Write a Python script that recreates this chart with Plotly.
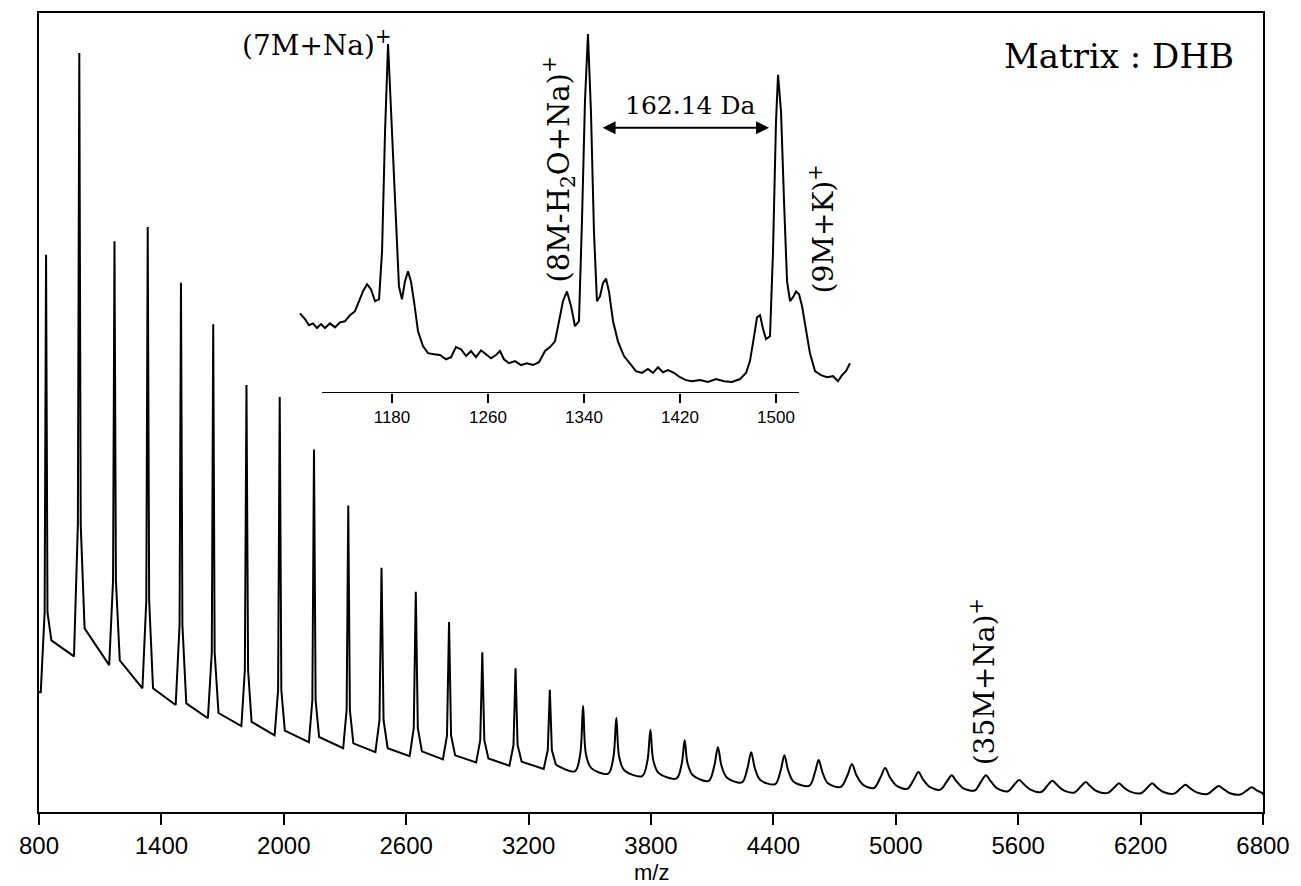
import plotly.graph_objects as go

# ---------------- main spectrum (m/z, relative intensity) ----------------
main_peak_mz = [834.6, 997.5, 1170, 1333, 1496, 1654, 1817, 1980, 2148, 2316,
                2479, 2647, 2810, 2973, 3136, 3304, 3467, 3630, 3797, 3965,
                4128, 4291, 4454, 4622, 4785, 4948, 5111, 5274, 5442, 5605,
                5768, 5931, 6094, 6257, 6420, 6583, 6745]
main_peak_top = [69.8, 95.1, 71.5, 73.3, 66.3, 61.1, 53.5, 52.0, 45.4, 38.4,
                 30.6, 27.6, 23.8, 20.0, 18.0, 15.3, 13.3, 11.8, 10.3, 9.0,
                 8.1, 7.5, 7.1, 6.5, 6.0, 5.5, 5.0, 4.6, 4.6, 4.0,
                 3.9, 3.75, 3.6, 3.6, 3.4, 3.25, 3.1]
main_peak_foot = [25, 36, 29, 26.5, 23.4, 20, 17.75, 15.25, 14, 12.75,
                  11.5, 10.5, 9.6, 9.0, 8.4, 7.75, 7.25, 6.9, 6.5, 6.1,
                  5.75, 5.5, 5.25, 5.0, 4.6, 4.4, 4.1, 3.9, 3.9, 3.5,
                  3.4, 3.25, 3.1, 3.1, 3.0, 2.9, 2.75]
# baseline just before each peak (last value = baseline at 6800)
main_valley = [15, 19.5, 18.4, 15.5, 13.4, 11.75, 10.75, 9.6, 8.75, 8.0,
               7.5, 7.0, 6.6, 6.2, 5.8, 5.4, 5.1, 4.8, 4.5, 4.2,
               3.9, 3.7, 3.5, 3.3, 3.15, 3.0, 2.9, 2.8, 2.7, 2.6,
               2.5, 2.45, 2.4, 2.35, 2.3, 2.25, 2.2, 2.1]
# baseline just after each peak (tailing side)
main_tail = [21.5, 23.0, 19.0, 15.5, 13.6, 12.4, 11.3, 10.2, 9.4, 8.6,
             8.0, 7.6, 7.1, 6.7, 6.3, 5.9, 5.5, 5.2, 4.9, 4.6,
             4.3, 4.0, 3.8, 3.6, 3.4, 3.3, 3.15, 3.0, 2.95, 2.8,
             2.7, 2.6, 2.55, 2.5, 2.45, 2.35, 2.3]
main_peak_base_hw = [26, 26, 26, 26, 26, 26, 25, 25, 25, 25,
                     30, 30, 30, 30, 30, 30, 40, 40, 40, 40,
                     45, 45, 45, 45, 55, 55, 55, 55, 55, 55,
                     55, 55, 55, 55, 55, 55, 55]
main_peak_foot_hw = [7, 7, 7, 7, 7, 7, 8, 8, 8, 8,
                     10, 10, 10, 10, 10, 10, 14, 14, 14, 14,
                     18, 18, 18, 18, 22, 22, 22, 22, 22, 22,
                     22, 22, 22, 22, 22, 22, 22]
main_tick_vals = [800, 1400, 2000, 2600, 3200, 3800, 4400, 5000, 5600, 6200, 6800]
smooth_from_peak = 16   # peaks from this index on are broad rounded humps

# ---------------- inset spectrum ----------------
inset_mz = [1103.3, 1107.5, 1110.8, 1114.2, 1117.5, 1120.8, 1124.2, 1128.3, 1132.5, 1136.7,
            1140.8, 1145.0, 1149.2, 1152.5, 1155.8, 1159.2, 1162.5, 1165.8, 1169.2, 1171.7,
            1174.2, 1176.7, 1179.2, 1182.5, 1185.8, 1188.3, 1190.8, 1193.3, 1195.8, 1198.3,
            1201.7, 1205.8, 1210.0, 1215.0, 1220.0, 1225.0, 1229.2, 1233.3, 1237.5, 1241.7,
            1245.8, 1250.0, 1254.2, 1258.3, 1262.5, 1266.7, 1270.0, 1273.3, 1277.5, 1282.5,
            1287.5, 1292.5, 1297.5, 1302.5, 1307.5, 1311.7, 1315.8, 1319.2, 1322.5, 1325.8,
            1329.2, 1332.5, 1335.8, 1338.3, 1340.8, 1343.3, 1345.8, 1348.3, 1350.8, 1353.3,
            1355.8, 1358.3, 1360.8, 1364.2, 1368.3, 1373.3, 1378.3, 1383.3, 1388.3, 1393.3,
            1397.5, 1401.7, 1405.8, 1410.0, 1415.0, 1420.0, 1425.0, 1430.0, 1436.7, 1443.3,
            1450.0, 1456.7, 1463.3, 1470.0, 1475.0, 1478.3, 1481.7, 1484.2, 1486.7, 1489.2,
            1491.7, 1495.0, 1497.5, 1500.0, 1501.7, 1504.2, 1506.7, 1509.2, 1511.7, 1514.2,
            1516.7, 1519.2, 1521.7, 1525.0, 1528.3, 1532.5, 1537.5, 1542.5, 1547.5, 1551.7,
            1555.0, 1558.3, 1561.7]
inset_int = [22.2, 20.6, 18.9, 19.4, 18.1, 19.2, 18.1, 19.4, 18.3, 19.7,
             20.0, 21.7, 22.8, 25.6, 28.3, 30.3, 28.9, 25.6, 26.1, 39.4,
             72.8, 97.2, 78.3, 50.6, 29.7, 26.1, 31.1, 33.9, 31.1, 25.6,
             17.2, 13.1, 11.1, 10.8, 10.6, 9.4, 10.0, 12.8, 12.2, 10.3,
             11.7, 10.0, 11.9, 10.8, 9.7, 10.6, 11.7, 9.4, 8.3, 8.9,
             7.8, 8.3, 7.8, 8.6, 11.7, 12.8, 14.4, 20.0, 25.6, 28.3,
             24.2, 18.6, 20.0, 47.8, 81.1, 100.0, 78.3, 45.0, 25.6, 26.9,
             30.6, 31.9, 28.3, 20.0, 14.4, 10.3, 8.3, 6.1, 5.6, 6.7,
             5.6, 7.2, 5.8, 6.4, 5.6, 4.4, 3.6, 3.3, 3.6, 3.1,
             3.9, 3.3, 3.1, 3.9, 5.6, 8.9, 15.8, 21.1, 21.7, 17.8,
             15.0, 15.8, 39.4, 75.6, 88.6, 78.3, 53.3, 31.1, 25.6, 26.7,
             28.3, 27.5, 24.2, 17.2, 11.1, 6.1, 5.0, 4.4, 4.7, 3.3,
             5.0, 6.1, 8.3]
inset_tick_vals = [1180, 1260, 1340, 1420, 1500]
inset_axis_span = [1121.7, 1519.2]
arrow_span = [1354.2, 1494.2]
arrow_level = 73.9

# ---------------- build main polyline from the read peak values ----------------
sharp_x, sharp_y = [800], [main_valley[0]]
broad_x, broad_y = [], []
for i, c in enumerate(main_peak_mz):
    hw = main_peak_base_hw[i]
    fw = main_peak_foot_hw[i]
    px_ = [c - hw, c - fw, c, c + fw, c + hw]
    py_ = [main_valley[i], main_peak_foot[i], main_peak_top[i], main_peak_foot[i], main_tail[i]]
    if i < smooth_from_peak:
        sharp_x += px_
        sharp_y += py_
    else:
        if not broad_x:
            broad_x.append(sharp_x[-1])
            broad_y.append(sharp_y[-1])
        broad_x += px_
        broad_y += py_
broad_x.append(6800)
broad_y.append(main_valley[-1])

fig = go.Figure()
fig.add_trace(go.Scatter(x=sharp_x, y=sharp_y, mode="lines", line=dict(color="black", width=2),
                         xaxis="x", yaxis="y", showlegend=False, hoverinfo="skip"))
fig.add_trace(go.Scatter(x=broad_x, y=broad_y, mode="lines",
                         line=dict(color="black", width=2, shape="spline", smoothing=0.9),
                         xaxis="x", yaxis="y", showlegend=False, hoverinfo="skip"))
fig.add_trace(go.Scatter(x=inset_mz, y=inset_int, mode="lines", line=dict(color="black", width=2),
                         xaxis="x2", yaxis="y2", showlegend=False, hoverinfo="skip"))

W, H = 1301, 886
L, R, T, B = 39, 38, 11, 74
pw = W - L - R
ph = H - T - B


def px(x):
    return (x - L) / pw


def py(y):
    return (H - B - y) / ph


fig.update_layout(
    width=W, height=H,
    margin=dict(l=L, r=R, t=T, b=B, pad=0),
    paper_bgcolor="white", plot_bgcolor="white",
    xaxis=dict(range=[800, 6800], tickvals=main_tick_vals, ticks="outside", ticklen=11,
               tickwidth=2, tickcolor="black", showline=True, linewidth=2, linecolor="black",
               mirror=True, showgrid=False, zeroline=False,
               tickfont=dict(family="Liberation Sans, Arial", size=24, color="black")),
    yaxis=dict(range=[0, 100.1], showticklabels=False, ticks="", showline=True, linewidth=2,
               linecolor="black", mirror=True, showgrid=False, zeroline=False),
    xaxis2=dict(domain=[px(298), px(852)], range=[1101.67, 1563.33], anchor="y2",
                tickvals=inset_tick_vals, ticks="outside", ticklen=9, tickwidth=2,
                tickcolor="black", showline=False, showgrid=False, zeroline=False,
                tickfont=dict(family="Liberation Sans, Arial", size=17, color="black")),
    yaxis2=dict(domain=[py(392), py(14)], range=[0, 105], anchor="x2", visible=False),
    shapes=[dict(type="line", xref="x2", yref="y2", x0=inset_axis_span[0], x1=inset_axis_span[1],
                 y0=0, y1=0, line=dict(color="black", width=2))],
)

serif = "DejaVu Serif, Century Schoolbook, serif"
ann = [
    dict(text="m/z", x=px(651), y=py(873), xanchor="center", yanchor="middle",
         font=dict(family="Liberation Sans, Arial", size=22, color="black")),
    dict(text="(7M+Na)<sup>+</sup>", x=px(393), y=py(42), xanchor="right", yanchor="middle",
         font=dict(family=serif, size=28, color="black")),
    dict(text="Matrix : DHB", x=px(1236), y=py(54), xanchor="right", yanchor="middle",
         font=dict(family=serif, size=34, color="black")),
    dict(text="162.14 Da", x=px(690), y=py(104), xanchor="center", yanchor="middle",
         font=dict(family=serif, size=25, color="black")),
    dict(text="(8M-H<sub>2</sub>O+Na)<sup>+</sup>", x=px(558), y=py(168), textangle=-90,
         xanchor="center", yanchor="middle", font=dict(family=serif, size=29, color="black")),
    dict(text="(9M+K)<sup>+</sup>", x=px(822), y=py(227), textangle=-90,
         xanchor="center", yanchor="middle", font=dict(family=serif, size=28, color="black")),
    dict(text="(35M+Na)<sup>+</sup>", x=px(983), y=py(682), textangle=-90,
         xanchor="center", yanchor="middle", font=dict(family=serif, size=28, color="black")),
]
for a in ann:
    a.update(xref="paper", yref="paper", showarrow=False)
    fig.add_annotation(**a)

fig.add_annotation(x=arrow_span[1], y=arrow_level, ax=arrow_span[0], ay=arrow_level,
                   xref="x2", yref="y2", axref="x2", ayref="y2", text="",
                   showarrow=True, arrowhead=2, startarrowhead=2, arrowside="end+start",
                   arrowsize=1.3, startarrowsize=1.3, arrowwidth=2, arrowcolor="black",
                   standoff=0, startstandoff=0)

fig.write_html("out.html", config={"displayModeBar": False},
               post_script="document.body.style.margin='0px';")
